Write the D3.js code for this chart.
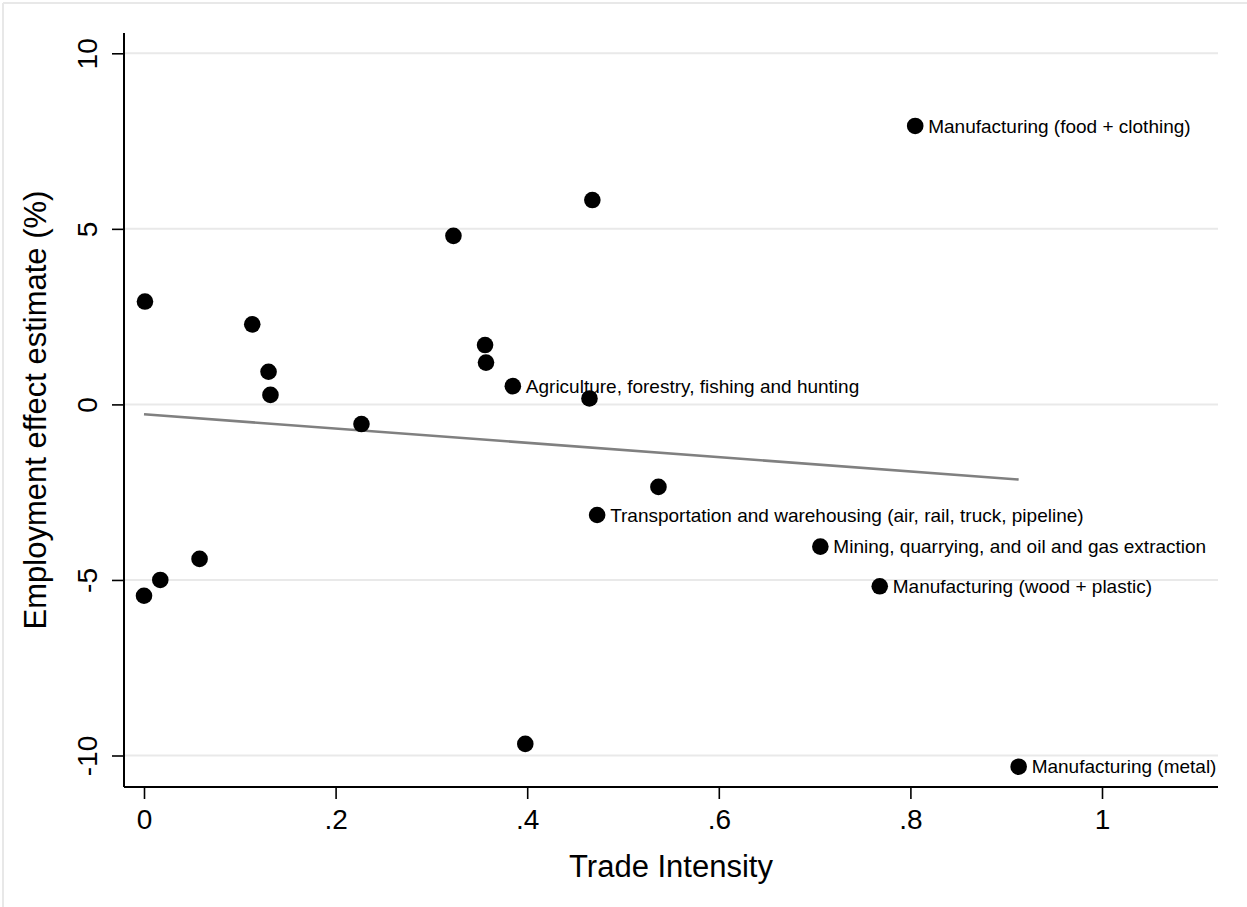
<!DOCTYPE html>
<html>
<head>
<meta charset="utf-8">
<script src="https://cdn.jsdelivr.net/npm/d3@7"></script>
<style>
  html, body { margin: 0; padding: 0; background: #fff; }
  svg { display: block; font-family: Arial, "Liberation Sans", sans-serif; }
</style>
</head>
<body>
<svg id="chart" width="1247" height="907"></svg>
<script>
// ---- data ----
const tradeIntensity = [0.001, 0.113, 0.130, 0.132, 0.227, 0.323, 0.356, 0.357, 0.385, 0.398, 0.468, 0.465, 0.537, 0.473, 0.706, 0.768, 0.805, 0.913, 0.000, 0.017, 0.058];
const effectEstimate = [2.93, 2.28, 0.93, 0.27, -0.56, 4.80, 1.69, 1.19, 0.52, -9.67, 5.82, 0.17, -2.35, -3.15, -4.05, -5.18, 7.93, -10.32, -5.45, -5.00, -4.40];
const pointLabels = ["", "", "", "", "", "", "", "", "Agriculture, forestry, fishing and hunting", "", "", "", "",
  "Transportation and warehousing (air, rail, truck, pipeline)", "Mining, quarrying, and oil and gas extraction",
  "Manufacturing (wood + plastic)", "Manufacturing (food + clothing)", "Manufacturing (metal)", "", "", ""];
const fitX = [0.0, 0.913];
const fitY = [-0.28, -2.14];
const xTicks = [0, 0.2, 0.4, 0.6, 0.8, 1];
const xTickLabels = ["0", ".2", ".4", ".6", ".8", "1"];
const yTicks = [-10, -5, 0, 5, 10];
const yTickLabels = ["-10", "-5", "0", "5", "10"];
const xTitle = "Trade Intensity";
const yTitle = "Employment effect estimate (%)";

// ---- layout ----
const plotLeft = 124, plotRight = 1218, plotTop = 33, plotBottom = 787;
const svg = d3.select("#chart");

const x = d3.scaleLinear().domain([0, 1]).range([144, 1102]);
const y = d3.scaleLinear().domain([-10, 10]).range([755.5, 53.3]);

// outer frame (top/left visible)
svg.append("line").attr("x1", 3).attr("x2", 1247).attr("y1", 3).attr("y2", 3)
  .attr("stroke", "#e8e8e8").attr("stroke-width", 2);
svg.append("line").attr("x1", 3).attr("x2", 3).attr("y1", 3).attr("y2", 907)
  .attr("stroke", "#e8e8e8").attr("stroke-width", 2);

// gridlines
svg.append("g").selectAll("line").data(yTicks).join("line")
  .attr("x1", plotLeft).attr("x2", plotRight)
  .attr("y1", d => y(d)).attr("y2", d => y(d))
  .attr("stroke", "#e9e9e9").attr("stroke-width", 2);

// fit line
svg.append("path")
  .datum(fitX.map((d, i) => [d, fitY[i]]))
  .attr("d", d3.line().x(d => x(d[0])).y(d => y(d[1])))
  .attr("fill", "none").attr("stroke", "#808080").attr("stroke-width", 2.6);

// axes
const xAxis = svg.append("g").attr("transform", `translate(0,${plotBottom})`)
  .call(d3.axisBottom(x).tickValues(xTicks).tickFormat((d, i) => xTickLabels[i]).tickSize(12).tickSizeOuter(0).tickPadding(10));
xAxis.select(".domain").remove();
xAxis.append("line").attr("x1", plotLeft).attr("x2", plotRight).attr("y1", 0).attr("y2", 0)
  .attr("stroke", "#000").attr("stroke-width", 2);
xAxis.selectAll(".tick line").attr("stroke", "#000").attr("stroke-width", 1.6);
xAxis.selectAll(".tick text").attr("fill", "#000").style("font-size", "28px")
  .style("font-family", "Arial, 'Liberation Sans', sans-serif");

const yAxis = svg.append("g").attr("transform", `translate(${plotLeft},0)`)
  .call(d3.axisLeft(y).tickValues(yTicks).tickFormat((d, i) => yTickLabels[i]).tickSize(12).tickSizeOuter(0).tickPadding(0));
yAxis.select(".domain").remove();
yAxis.append("line").attr("x1", 0).attr("x2", 0).attr("y1", plotTop).attr("y2", plotBottom)
  .attr("stroke", "#000").attr("stroke-width", 2);
yAxis.selectAll(".tick line").attr("stroke", "#000").attr("stroke-width", 1.6);
yAxis.selectAll(".tick text")
  .attr("x", null).attr("dy", null)
  .attr("text-anchor", "middle")
  .attr("transform", "translate(-27,0) rotate(-90)")
  .attr("fill", "#000").style("font-size", "28px")
  .style("font-family", "Arial, 'Liberation Sans', sans-serif");

// axis titles
svg.append("text")
  .attr("x", (plotLeft + plotRight) / 2).attr("y", 877)
  .attr("text-anchor", "middle").style("font-size", "31px").attr("fill", "#000")
  .text(xTitle);
svg.append("text")
  .attr("transform", `translate(46,${(plotTop + plotBottom) / 2}) rotate(-90)`)
  .attr("text-anchor", "middle").style("font-size", "31px").attr("fill", "#000")
  .text(yTitle);

// points
const pts = tradeIntensity.map((d, i) => ({ x: d, y: effectEstimate[i], label: pointLabels[i] }));
svg.append("g").selectAll("circle").data(pts).join("circle")
  .attr("cx", d => x(d.x)).attr("cy", d => y(d.y)).attr("r", 8.3).attr("fill", "#000");

// labels
svg.append("g").selectAll("text").data(pts.filter(d => d.label)).join("text")
  .attr("x", d => x(d.x) + 13).attr("y", d => y(d.y))
  .attr("dy", "0.35em").style("font-size", "19px").attr("fill", "#000")
  .text(d => d.label);
</script>
</body>
</html>
